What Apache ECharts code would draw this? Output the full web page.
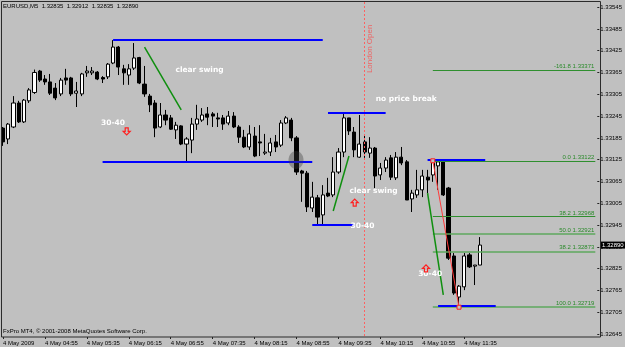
<!DOCTYPE html>
<html><head><meta charset="utf-8">
<script src="https://cdn.jsdelivr.net/npm/echarts@6/dist/echarts.min.js"></script>
<style>html,body{margin:0;padding:0;background:#c0c0c0}#c{width:625px;height:347px}</style>
</head><body><div id="c"></div><script>
// ---- data (EURUSD M5, 4 May 2009, from 04:15) ----
const openP = [1.33212,1.33182,1.33215,1.33281,1.33229,1.33287,1.33310,1.33369,1.33347,1.33339,
1.33322,1.33306,1.33350,1.33350,1.33308,1.33306,1.33364,1.33364,1.33366,1.33351,
1.33353,1.33391,1.33435,1.33375,1.33358,1.33377,1.33406,1.33333,1.33300,1.33281,
1.33215,1.33248,1.33240,1.33207,1.33218,1.33168,1.33179,1.33223,1.33234,1.33251,
1.33251,1.33240,1.33240,1.33226,1.33245,1.33215,1.33187,1.33160,1.33190,1.33174,
1.33143,1.33146,1.33174,1.33165,1.33226,1.33234,1.33185,1.33094,1.33088,1.32992,
1.33020,1.32973,1.33033,1.33028,1.33091,1.33146,1.33240,1.33201,1.33132,1.33174,
1.33143,1.33157,1.33083,1.33102,1.33130,1.33075,1.33132,1.33119,1.33017,1.33028,
1.33042,1.33077,1.33083,1.33108,1.33119,1.33047,1.32860,1.32747,1.32775,1.32863,
1.32832,1.32835];
const closeP = [1.33174,1.33223,1.33281,1.33229,1.33289,1.33317,1.33365,1.33344,1.33339,1.33308,
1.33295,1.33344,1.33344,1.33306,1.33314,1.33361,1.33369,1.33369,1.33347,1.33347,
1.33388,1.33435,1.33380,1.33364,1.33375,1.33405,1.33336,1.33306,1.33276,1.33212,
1.33248,1.33234,1.33209,1.33220,1.33168,1.33182,1.33223,1.33237,1.33248,1.33242,
1.33245,1.33237,1.33223,1.33245,1.33215,1.33187,1.33160,1.33196,1.33135,1.33171,
1.33146,1.33171,1.33160,1.33226,1.33240,1.33185,1.33091,1.33088,1.32995,1.33022,
1.32967,1.33028,1.33025,1.33091,1.33146,1.33240,1.33204,1.33152,1.33168,1.33146,
1.33157,1.33080,1.33102,1.33124,1.33077,1.33132,1.33116,1.33014,1.33033,1.33042,
1.33080,1.33069,1.33119,1.33119,1.33028,1.32854,1.32758,1.32777,1.32860,1.32830,
1.32835,1.32890];
const lowP = [1.33163,1.33168,1.33212,1.33226,1.33226,1.33281,1.33306,1.33339,1.33331,1.33303,
1.33289,1.33300,1.33331,1.33300,1.33270,1.33300,1.33353,1.33358,1.33344,1.33336,
1.33347,1.33388,1.33358,1.33331,1.33331,1.33372,1.33333,1.33298,1.33256,1.33187,
1.33212,1.33220,1.33207,1.33182,1.33165,1.33121,1.33143,1.33207,1.33229,1.33220,
1.33215,1.33215,1.33207,1.33220,1.33212,1.33171,1.33157,1.33152,1.33132,1.33135,
1.33138,1.33135,1.33146,1.33160,1.33223,1.33176,1.33083,1.33009,1.32981,1.32981,
1.32945,1.32945,1.33022,1.33022,1.33086,1.33132,1.33193,1.33132,1.33130,1.33130,
1.33130,1.33047,1.33069,1.33091,1.33069,1.33069,1.33110,1.33014,1.32981,1.33020,
1.33022,1.33033,1.33064,1.33042,1.33025,1.32849,1.32753,1.32719,1.32766,1.32827,
1.32780,1.32835];
const highP = [1.33215,1.33226,1.33300,1.33287,1.33292,1.33322,1.33373,1.33372,1.33358,1.33361,
1.33336,1.33350,1.33375,1.33353,1.33339,1.33364,1.33383,1.33380,1.33369,1.33355,
1.33391,1.33454,1.33438,1.33386,1.33388,1.33446,1.33408,1.33383,1.33306,1.33289,
1.33281,1.33262,1.33248,1.33229,1.33220,1.33187,1.33240,1.33276,1.33267,1.33270,
1.33256,1.33254,1.33248,1.33259,1.33256,1.33220,1.33207,1.33220,1.33215,1.33220,
1.33196,1.33185,1.33193,1.33234,1.33245,1.33240,1.33190,1.33097,1.33094,1.33064,
1.33028,1.33055,1.33075,1.33132,1.33157,1.33254,1.33240,1.33215,1.33248,1.33193,
1.33187,1.33160,1.33116,1.33132,1.33138,1.33146,1.33160,1.33124,1.33042,1.33097,
1.33097,1.33097,1.33122,1.33121,1.33121,1.33050,1.32868,1.32780,1.32868,1.32868,
1.32835,1.32912];

const slotCount = 114; // bars + empty chart shift on the right
const categories = [];
for (let k = 0; k < slotCount; k++) {
  const m = 4 * 60 + 15 + 5 * k;
  categories.push(String(Math.floor(m / 60)).padStart(2, '0') + ':' + String(m % 60).padStart(2, '0'));
}
const xTickIdx = [0, 8, 16, 24, 32, 40, 48, 56, 64, 72, 80, 88];
const xTickLabels = ['4 May 2009','4 May 04:55','4 May 05:35','4 May 06:15','4 May 06:55','4 May 07:35',
  '4 May 08:15','4 May 08:55','4 May 09:35','4 May 10:15','4 May 10:55','4 May 11:35'];
const yTickLabels = [1.32645,1.32705,1.32765,1.32825,1.32885,1.32945,1.33005,1.33065,1.33125,
  1.33185,1.33245,1.33305,1.33365,1.33425,1.33485,1.33545];

const fibLevels = [
  {name: '-161.8', value: 1.33371},
  {name: '0.0', value: 1.33122},
  {name: '38.2', value: 1.32968},
  {name: '50.0', value: 1.32921},
  {name: '38.2', value: 1.32873},
  {name: '100.0', value: 1.32719}
];
const blueLines = [[21, 61, 1.33455], [19, 59, 1.33118], [62, 73, 1.33253], [59, 67, 1.32945], [81, 92, 1.33124], [83, 94, 1.32722]];
const greenLines = [[27, 1.33435, 34, 1.33262], [63, 1.32984, 66, 1.33135], [81, 1.33033, 84, 1.32753]];
const fibAnchors = [[82, 1.33122], [87, 1.32719]];
const londonOpenIdx = 69;
const notes = [
  {t: 'clear swing', i: 32.9, p: 1.33372},
  {t: 'no price break', i: 71.1, p: 1.33292},
  {t: '30-40', i: 18.7, p: 1.33226},
  {t: 'clear swing', i: 66.1, p: 1.33039},
  {t: '30-40', i: 66.3, p: 1.32943},
  {t: '30-40', i: 79.2, p: 1.32811}
];
const arrows = [{i: 23.6, p: 1.33203, dir: 'down'}, {i: 67.1, p: 1.33007, dir: 'up'}, {i: 80.7, p: 1.32826, dir: 'up'}];
const shadeSpot = {i: 55.9, p: 1.33124};
const lastPrice = 1.32890;

const FONT = '"Liberation Sans", Arial, sans-serif';
const chart = echarts.init(document.getElementById('c'), null, {renderer: 'canvas'});

const mlData = [];
fibLevels.forEach((f, k) => mlData.push([{coord: [82, f.value], lineStyle: {color: (k >= 3 ? '#5ea85e' : '#2f8f2f'), width: (k >= 3 ? 1.5 : 1), type: 'solid'}}, {coord: [slotCount - 1, f.value]}]));
mlData.push([{coord: [londonOpenIdx, 1.33559], lineStyle: {color: '#ff6060', width: 1, type: [2, 2]}}, {coord: [londonOpenIdx, 1.32637]}]);
blueLines.forEach(b => mlData.push([{coord: [b[0], b[2]], lineStyle: {color: '#0000ff', width: 2, type: 'solid'}}, {coord: [b[1], b[2]]}]));
greenLines.forEach(g => mlData.push([{coord: [g[0], g[1]], lineStyle: {color: '#0f8f0f', width: 1.5, type: 'solid'}}, {coord: [g[2], g[3]]}]));

chart.setOption({
  animation: false,
  backgroundColor: '#c0c0c0',
  grid: {left: 2.5, right: 27, top: 2, bottom: 10},
  xAxis: {
    type: 'category', data: categories, boundaryGap: false,
    axisLine: {show: false},
    axisTick: {show: true, length: 2, interval: (idx) => xTickIdx.indexOf(idx) >= 0, lineStyle: {color: '#222'}},
    axisLabel: {show: true, interval: (idx) => xTickIdx.indexOf(idx) >= 0, align: 'left', margin: 3,
      fontSize: 6, fontFamily: FONT, color: '#000',
      formatter: (v, idx) => { const k = xTickIdx.indexOf(idx); return k >= 0 ? xTickLabels[k] : ''; }},
    splitLine: {show: false}
  },
  yAxis: {
    type: 'value', position: 'right', min: 1.32637, max: 1.33559, offset: 2, scale: true,
    axisLine: {show: false},
    axisTick: {show: true, length: 2, customValues: yTickLabels, lineStyle: {color: '#222'}},
    axisLabel: {show: true, customValues: yTickLabels, margin: 3, fontSize: 6, fontFamily: FONT, color: '#000',
      formatter: v => v.toFixed(5)},
    splitLine: {show: false}
  },
  series: [
    {
      type: 'line', silent: true, data: [], z: 1,
      markLine: {silent: true, symbol: ['none', 'none'], label: {show: false}, animation: false, data: mlData}
    },
    {
      type: 'candlestick', silent: true, barWidth: 3.6, z: 3,
      data: openP.map((o, i) => [o, closeP[i], lowP[i], highP[i]]),
      itemStyle: {color: '#ffffff', color0: '#000000', borderColor: '#000000', borderColor0: '#000000', borderWidth: 1}
    },
    {
      type: 'line', silent: true, data: fibAnchors, symbol: 'rect', symbolSize: 4, showAllSymbol: true,
      lineStyle: {color: '#ff3b3b', width: 1}, itemStyle: {color: '#c0c0c0', borderColor: '#ff2020', borderWidth: 1}, z: 5
    }
  ]
});

function toPx(idx, p) {
  const i0 = Math.floor(idx), f = idx - i0;
  const a = chart.convertToPixel({gridIndex: 0}, [i0, p]);
  const b = chart.convertToPixel({gridIndex: 0}, [i0 + 1, p]);
  return [a[0] + (b[0] - a[0]) * f, a[1]];
}

const g = [];
g.push({type: 'rect', silent: true, shape: {x: 1.5, y: 1.5, width: 599, height: 335.5}, style: {fill: null, stroke: '#2b2b2b', lineWidth: 1}, z: 10});
const sp = toPx(shadeSpot.i, shadeSpot.p);
g.push({type: 'ellipse', silent: true, shape: {cx: sp[0], cy: sp[1], rx: 7.5, ry: 9}, style: {fill: 'rgba(60,60,60,0.38)'}, z: 20});
notes.forEach(n => {
  const q = toPx(n.i, n.p);
  g.push({type: 'text', silent: true, x: q[0], y: q[1], z: 30,
    style: {text: n.t, fill: '#ffffff', font: 'bold 7.5px "DejaVu Sans", sans-serif', textAlign: 'left', textVerticalAlign: 'middle'}});
});
arrows.forEach(a => {
  const q = toPx(a.i, a.p);
  const s = a.dir === 'down' ? 1 : -1;
  const pts = [[-1.5, -3.5 * s], [1.5, -3.5 * s], [1.5, 0], [3.5, 0], [0, 3.5 * s], [-3.5, 0], [-1.5, 0]].map(v => [q[0] + v[0], q[1] + v[1]]);
  g.push({type: 'polygon', silent: true, shape: {points: pts}, style: {fill: 'rgba(192,192,192,0)', stroke: '#ff2020', lineWidth: 1.2}, z: 30});
});
fibLevels.forEach(f => {
  const q = toPx(slotCount - 1, f.value);
  g.push({type: 'text', silent: true, x: q[0] - 1, y: q[1] - 3.6, z: 30,
    style: {text: f.name + ' ' + f.value.toFixed(5), fill: '#2a8a2a', font: '6px ' + FONT, textAlign: 'right', textVerticalAlign: 'middle'}});
});
const lo = toPx(londonOpenIdx, 1.33430);
g.push({type: 'text', silent: true, x: lo[0] + 5, y: lo[1], rotation: Math.PI / 2, z: 30,
  style: {text: 'London Open', fill: '#ec6464', font: '8px ' + FONT, textAlign: 'center', textVerticalAlign: 'middle'}});
const lp = toPx(0, lastPrice);
g.push({type: 'rect', silent: true, shape: {x: 601, y: lp[1] - 3.5, width: 24, height: 7}, style: {fill: '#000'}, z: 40});
g.push({type: 'text', silent: true, x: 602, y: lp[1], z: 41,
  style: {text: lastPrice.toFixed(5), fill: '#fff', font: '6px ' + FONT, textAlign: 'left', textVerticalAlign: 'middle'}});
g.push({type: 'text', silent: true, x: 3, y: 6, z: 30,
  style: {text: 'EURUSD,M5  ' + [openP[91], highP[91], lowP[91], closeP[91]].map(v => v.toFixed(5)).join('  '), fill: '#000', font: '6px ' + FONT, textAlign: 'left', textVerticalAlign: 'middle'}});
g.push({type: 'text', silent: true, x: 3, y: 331, z: 30,
  style: {text: 'FxPro MT4, \u00a9 2001-2008 MetaQuotes Software Corp.', fill: '#000', font: '6px ' + FONT, textAlign: 'left', textVerticalAlign: 'middle'}});
chart.setOption({graphic: g});
</script></body></html>
